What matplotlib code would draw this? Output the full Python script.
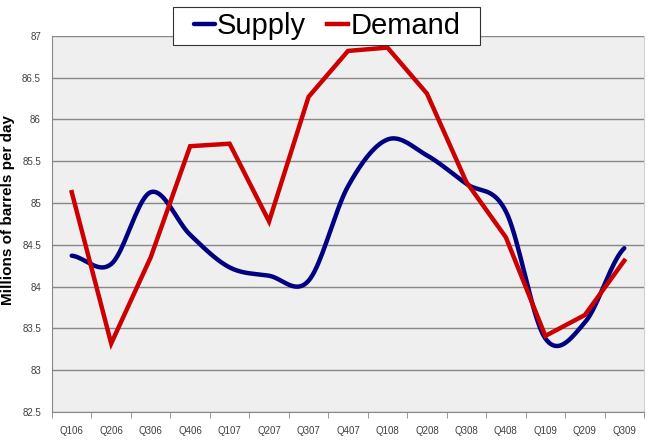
import numpy as np
import matplotlib
matplotlib.use("Agg")
import matplotlib.pyplot as plt
from matplotlib.ticker import FixedLocator
from matplotlib.patches import Rectangle

quarters = ["Q106", "Q206", "Q306", "Q406", "Q107", "Q207", "Q307", "Q407",
            "Q108", "Q208", "Q308", "Q408", "Q109", "Q209", "Q309"]
supply = [84.37, 84.27, 85.13, 84.62, 84.23, 84.13, 84.07, 85.2,
          85.76, 85.57, 85.23, 84.9, 83.38, 83.57, 84.46]
demand = [85.13, 83.32, 84.35, 85.68, 85.71, 84.78, 86.27, 86.82,
          86.86, 86.31, 85.25, 84.59, 83.41, 83.66, 84.31]
yticks = np.arange(82.5, 87.01, 0.5)


def smooth(y, n=20):
    # catmull-rom like excel's smoothed line
    y = np.asarray(y, float)
    p = np.concatenate([[y[0]], y, [y[-1]]])
    xs, ys = [], []
    for i in range(1, len(p) - 2):
        t = np.linspace(0, 1, n, endpoint=False)
        p0, p1, p2, p3 = p[i - 1], p[i], p[i + 1], p[i + 2]
        v = 0.5 * ((2 * p1) + (-p0 + p2) * t + (2 * p0 - 5 * p1 + 4 * p2 - p3) * t ** 2
                   + (-p0 + 3 * p1 - 3 * p2 + p3) * t ** 3)
        xs.append(i - 1 + t)
        ys.append(v)
    xs.append([len(y) - 1])
    ys.append([y[-1]])
    return np.concatenate(xs), np.concatenate(ys)


plt.rcParams['font.family'] = ['Liberation Sans', 'DejaVu Sans']

fig = plt.figure(figsize=(6.5, 4.43), dpi=100)
ax = fig.add_axes([52 / 650, 0.07, 592 / 650, 0.849])
ax.set_facecolor("#efefef")

x = np.arange(len(quarters))
sx, sy = smooth(supply)
ax.plot(sx, sy, color="#000080", lw=3.2, label="Supply", solid_capstyle="round")
ax.plot(x, demand, color="#cc0000", lw=3.2, label="Demand", solid_joinstyle="miter")

ax.set_xlim(-0.5, len(quarters) - 0.5)
ax.set_ylim(82.5, 87)
ax.set_yticks(yticks)
ax.set_yticklabels([f"{v:g}" for v in yticks])
ax.grid(axis="y", color="#888888", lw=1)
ax.set_axisbelow(True)

ax.set_xticks(x)
ax.set_xticklabels(quarters)
ax.xaxis.set_minor_locator(FixedLocator(np.arange(-0.5, len(quarters), 1)))
ax.tick_params(axis="x", which="major", length=0, pad=10, labelsize=7, colors="#404040")
ax.tick_params(axis="x", which="minor", length=4, color="#888888")
ax.tick_params(axis="y", length=0, pad=8, labelsize=7, labelcolor="#404040")

ax.spines["top"].set_visible(False)
ax.spines["right"].set_color("#d0d0d0")
for s in ["left", "bottom"]:
    ax.spines[s].set_color("#888888")

ax.set_ylabel("Millions of barrels per day", fontsize=11, fontweight="bold")
ax.yaxis.set_label_coords(-0.063, 0.537)

# legend box drawn separately: wider side padding than matplotlib allows
box = Rectangle((173 / 650, 1 - 45 / 443), 307 / 650, 38 / 443, transform=fig.transFigure,
                facecolor="white", edgecolor="#333333", lw=0.8, zorder=4)
fig.patches.append(box)
leg = fig.legend(loc="center", bbox_to_anchor=(327 / 650, 1 - 26 / 443), ncol=2, fontsize=21,
                 frameon=False, handlelength=0.72, handletextpad=0.08, columnspacing=0.72,
                 borderpad=0, borderaxespad=0)
leg.set_zorder(5)

fig.savefig("out.png", dpi=100, facecolor="white")
